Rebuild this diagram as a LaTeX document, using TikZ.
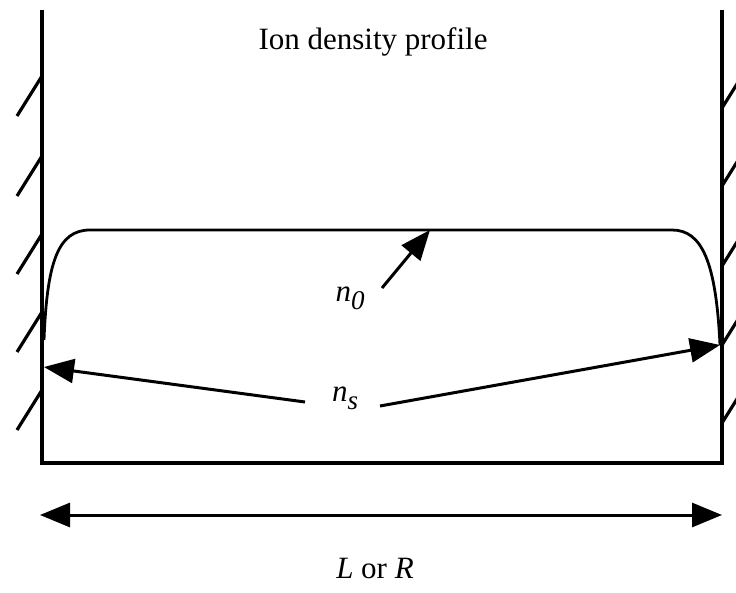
\documentclass[tikz,border=0pt]{standalone}
\usepackage{fontspec}
\setmainfont{Liberation Serif}
\usetikzlibrary{arrows.meta}

\begin{document}
\begin{tikzpicture}[x=1pt, y=-1pt,
  wall/.style={line width=3.5pt},
  hatch/.style={line width=3.2pt},
  profile/.style={line width=2.8pt},
  arrow/.style={-{Triangle[length=30pt,width=24pt]}, line width=3pt},
  dblarrow/.style={{Triangle[length=30pt,width=24pt]}-{Triangle[length=30pt,width=24pt]}, line width=3pt},
  lbl/.style={font=\fontsize{31}{36}\selectfont, inner sep=0pt},
]
\useasboundingbox (0,0) rectangle (736,593);

% ---- Walls and floor ----
\coordinate (lt) at (42,10);
\coordinate (lb) at (42,463);
\coordinate (rt) at (722,10);
\coordinate (rb) at (722,463);
\draw[wall] (lt) -- (lb) -- (rb) -- (rt);

% ---- Hatching ----
\begin{scope}
\clip (0,0) rectangle (736,593);
\foreach \y in {76,156,234,312,390}
  \draw[hatch] (42,\y) -- ++(-25,40);
\foreach \y in {108,186,266,345,423}
  \draw[hatch] (722,\y) -- ++(25,-40);
\end{scope}

% ---- Density profile ----
\coordinate (pl) at (44,340);
\coordinate (pr) at (720,345);
\draw[profile] (pl) .. controls (47,262) and (58,230) .. (90,230)
  -- (672,230) .. controls (702,230) and (716,262) .. (pr);

% ---- Labels ----
\node[lbl] (title) at (373,42) {Ion density profile};
\node[lbl] (nzero) at (350,298)
  {\textit{n}\raisebox{-8pt}{\fontsize{27}{30}\selectfont\textit{0}}};
\node[lbl] (nsheath) at (345,398)
  {\textit{n}\raisebox{-8pt}{\fontsize{27}{30}\selectfont\textit{s}}};
\node[lbl] (width) at (375,568) {\textit{L} or \textit{R}};

% ---- Arrows ----
\coordinate (peak) at (430,230);
\coordinate (n0tail) at (382,288);
\draw[arrow] (n0tail) -- (peak);

\coordinate (nsl) at (305,402);
\coordinate (nsr) at (380,406);
\coordinate (wl) at (44,367);
\coordinate (wr) at (720,345);
\draw[arrow] (nsl) -- (wl);
\draw[arrow] (nsr) -- (wr);

\coordinate (gl) at (40,515);
\coordinate (gr) at (722,515);
\draw[dblarrow] (gl) -- (gr);

\end{tikzpicture}
\end{document}
